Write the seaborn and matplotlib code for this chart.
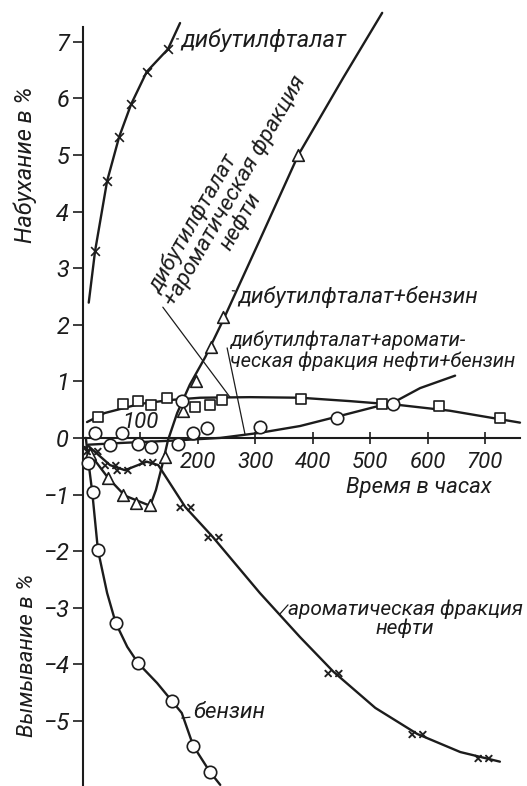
import matplotlib
matplotlib.use("Agg")
import matplotlib.pyplot as plt
import pandas as pd
import seaborn as sns

# Swelling / washing-out of rubber vs. exposure time (hours)

# дибутилфталат
dbp_x = [21, 42, 63, 84, 111, 148]
dbp_y = [3.30, 4.54, 5.32, 5.90, 6.47, 6.87]
dbp_line_x = [10, 21, 42, 63, 84, 111, 148, 169]
dbp_line_y = [2.39, 3.30, 4.54, 5.32, 5.90, 6.47, 6.87, 7.33]

# дибутилфталат + бензин
dbpb_x = [12, 44, 70, 92, 117, 143, 174, 197, 223, 244, 375]
dbpb_y = [-0.28, -0.71, -1.00, -1.15, -1.18, -0.34, 0.48, 1.00, 1.60, 2.14, 5.00]
dbpb_line_x = [3, 44, 73, 117, 127, 138, 148, 164, 186, 213, 244, 308, 375, 453, 521]
dbpb_line_y = [-0.16, -0.71, -1.02, -1.20, -0.92, -0.48, -0.04, 0.44, 0.94, 1.43,
               2.08, 3.50, 5.00, 6.36, 7.51]

# дибутилфталат + ароматическая фракция нефти
dbpa_x = [26, 70, 96, 118, 146, 172, 195, 221, 242, 380, 521, 620, 726]
dbpa_y = [0.37, 0.60, 0.65, 0.58, 0.71, 0.65, 0.55, 0.58, 0.67, 0.69, 0.60, 0.57, 0.35]
dbpa_marks = ["s", "s", "s", "s", "s", "o", "s", "s", "s", "s", "s", "s", "s"]
dbpa_line_x = [7, 38, 99, 152, 204, 291, 378, 465, 552, 639, 761]
dbpa_line_y = [0.28, 0.44, 0.60, 0.67, 0.71, 0.72, 0.71, 0.65, 0.58, 0.48, 0.27]

# дибутилфталат + ароматическая фракция нефти + бензин
mix_x = [21, 68, 47, 96, 118, 166, 192, 216, 308, 442, 540]
mix_y = [0.09, 0.09, -0.12, -0.11, -0.16, -0.11, 0.09, 0.18, 0.19, 0.35, 0.60]
mix_line_x = [9, 64, 152, 239, 308, 378, 448, 517, 543, 587, 648]
mix_line_y = [-0.12, -0.09, -0.05, 0.00, 0.09, 0.21, 0.39, 0.57, 0.64, 0.88, 1.10]

# ароматическая фракция нефти
arom_x = [16, 47, 68, 111, 178, 226, 436, 582, 697]
arom_y = [-0.23, -0.48, -0.57, -0.42, -1.22, -1.75, -4.15, -5.23, -5.65]
arom_line_x = [9, 47, 73, 111, 131, 178, 226, 308, 378, 436, 509, 582, 657, 726]
arom_line_y = [-0.14, -0.48, -0.57, -0.42, -0.48, -1.22, -1.75, -2.74, -3.52,
               -4.13, -4.77, -5.23, -5.55, -5.72]

# бензин
benz_x = [9, 17, 26, 57, 96, 155, 192, 221]
benz_y = [-0.44, -0.95, -1.98, -3.27, -3.98, -4.65, -5.44, -5.90]
benz_line_x = [5, 9, 16, 26, 42, 57, 77, 96, 129, 155, 172, 192, 221, 239]
benz_line_y = [0.0, -0.39, -0.95, -1.98, -2.74, -3.27, -3.69, -3.98, -4.33,
               -4.65, -4.86, -5.44, -5.90, -6.13]

x_ticks = [100, 200, 300, 400, 500, 600, 700]
x_tick_labels = ["100", "200", "300", "400", "500", "600", "700"]
y_ticks = [-5, -4, -3, -2, -1, 0, 1, 2, 3, 4, 5, 6, 7]
y_tick_labels = ["−5", "−4", "−3", "−2", "−1", "0", "1", "2", "3", "4", "5", "6", "7"]

sns.set_theme(style="white")
plt.rcParams["font.family"] = ["Roboto", "DejaVu Sans"]
plt.rcParams["font.style"] = "italic"

INK = "#1c1c1c"
W, H = 527, 786
fig = plt.figure(figsize=(W / 100, H / 100), dpi=100)
ax = fig.add_axes([83 / W, 0.0, (520 - 83) / W, (786 - 27) / H])
ax.set_xlim(0, 761)
ax.set_ylim(-6.15, 7.26)

LW = 1.7


def curve(xs, ys):
    df = pd.DataFrame({"t": xs, "v": ys})
    sns.lineplot(data=df, x="t", y="v", ax=ax, sort=False, color=INK,
                 linewidth=LW, clip_on=False, zorder=2)


def marks(xs, ys, marker, size, lw=1.2, face="white"):
    df = pd.DataFrame({"t": xs, "v": ys})
    sns.scatterplot(data=df, x="t", y="v", ax=ax, marker=marker, s=size,
                    facecolor=face, edgecolor=INK, linewidth=lw,
                    clip_on=False, zorder=3)


curve(dbp_line_x, dbp_line_y)
curve(dbpb_line_x, dbpb_line_y)
curve(dbpa_line_x, dbpa_line_y)
curve(mix_line_x, mix_line_y)
curve(arom_line_x, arom_line_y)
curve(benz_line_x, benz_line_y)

# markers
df_dbp = pd.DataFrame({"t": dbp_x, "v": dbp_y})
sns.scatterplot(data=df_dbp, x="t", y="v", ax=ax, marker="x", s=40,
                color=INK, linewidth=1.2, zorder=3, clip_on=False)
marks(dbpb_x, dbpb_y, "^", 70)
for m in sorted(set(dbpa_marks)):
    sel = [i for i, k in enumerate(dbpa_marks) if k == m]
    marks([dbpa_x[i] for i in sel], [dbpa_y[i] for i in sel], m,
          55 if m == "s" else 80)
marks(mix_x, mix_y, "o", 80)
marks(arom_x, arom_y, r"$\times\!\times$", 160, lw=0.6, face=INK)
marks(benz_x, benz_y, "o", 80)

# axes: left spine and the time axis through zero
for side in ("top", "right"):
    ax.spines[side].set_visible(False)
ax.spines["bottom"].set_position(("data", 0))
for side in ("left", "bottom"):
    ax.spines[side].set_color(INK)
    ax.spines[side].set_linewidth(1.5)

ax.set_xticks(x_ticks)
ax.set_xticklabels([""] + x_tick_labels[1:])
ax.set_yticks(y_ticks)
ax.set_yticklabels(y_tick_labels)
ax.tick_params(axis="x", direction="inout", length=8, width=1.2, color=INK,
               labelsize=16, pad=6, labelcolor=INK, bottom=True)
ax.tick_params(axis="y", direction="out", length=7, width=1.2, color=INK,
               labelsize=17, pad=3, labelcolor=INK, left=True)
ax.set_xlabel("")
ax.set_ylabel("")
ax.grid(False)

TXT = dict(color=INK, fontsize=16, fontstyle="italic")

ax.text(x_ticks[0], 0.28, x_tick_labels[0], ha="center", va="center",
        color=INK, fontsize=16, fontstyle="italic")
ax.text(584, -0.88, "Время в часах", ha="center", va="center", **TXT)
ax.text(-101, 4.82, "Набухание в %", rotation=90, ha="center", va="center",
        clip_on=False, color=INK, fontsize=17, fontstyle="italic")
ax.text(-96, -3.85, "Вымывание в %", rotation=90, ha="center", va="center",
        clip_on=False, color=INK, fontsize=16, fontstyle="italic")

LEAD = dict(arrowstyle="-", color=INK, linewidth=0.9, shrinkA=0, shrinkB=0)

ax.annotate("дибутилфталат", xy=(163, 7.05), xytext=(172, 7.03),
            ha="left", va="center", arrowprops=LEAD, annotation_clip=False,
            color=INK, fontsize=17, fontstyle="italic")
ax.annotate("дибутилфталат+бензин", xy=(260, 2.6), xytext=(270, 2.49),
            ha="left", va="center", arrowprops=LEAD, annotation_clip=False, **TXT)
ax.text(256, 1.54, "дибутилфталат+аромати-\nческая фракция нефти+бензин",
        ha="left", va="center", linespacing=1.1, color=INK, fontsize=14.5,
        fontstyle="italic")
ax.text(561, -3.19, "ароматическая фракция\nнефти", ha="center", va="center",
        multialignment="center", linespacing=0.95, color=INK, fontsize=15,
        fontstyle="italic")
ax.annotate("", xy=(343, -3.11), xytext=(357, -2.95), arrowprops=LEAD,
            annotation_clip=False)
ax.annotate("бензин", xy=(172, -4.95), xytext=(192, -4.86), ha="left",
            va="center", arrowprops=LEAD, annotation_clip=False, **TXT)

# rotated label for the swelling curve of the binary mixture
for txt, px, py in (("дибутилфталат", 192, 3.78),
                    ("+ароматическая фракция", 265, 4.36),
                    ("нефти", 275, 3.82)):
    ax.text(px, py, txt, rotation=60, rotation_mode="anchor", ha="center",
            va="center", **TXT)

# leader lines from the labels to their curves
ax.plot([139, 256], [2.31, 0.72], color=INK, linewidth=0.9, zorder=1)
ax.plot([251, 282], [1.59, 0.07], color=INK, linewidth=0.9, zorder=1)

fig.savefig("out.png", dpi=100, facecolor="white")
